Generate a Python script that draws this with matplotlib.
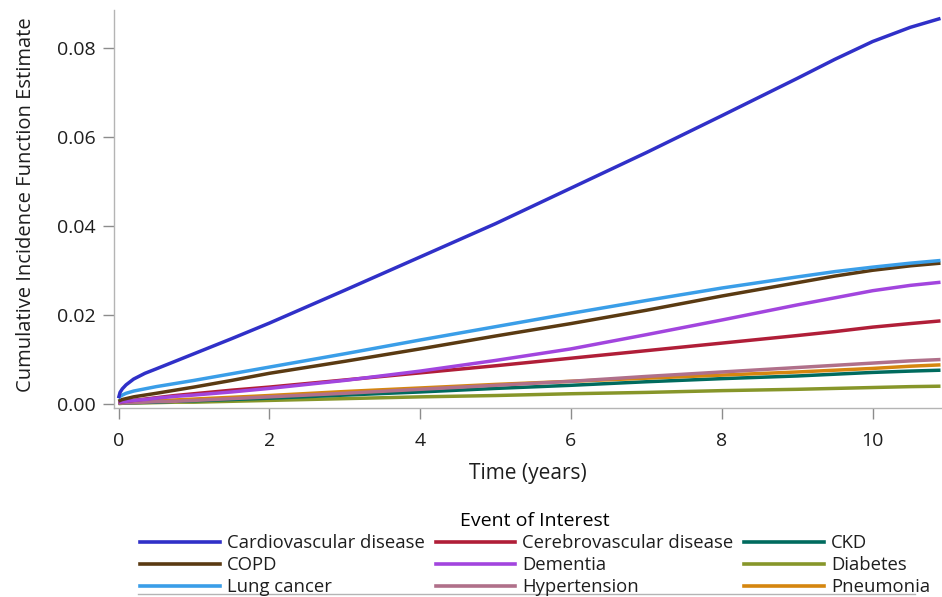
import matplotlib
matplotlib.use("Agg")
import matplotlib.pyplot as plt
from matplotlib.lines import Line2D

plt.rcParams['font.family'] = ['Open Sans', 'DejaVu Sans']

# follow-up time (years) at which the CIF estimates are read
tiempo = [0, 0.02, 0.05, 0.1, 0.2, 0.35, 0.5, 0.75, 1, 1.5, 2, 3, 4, 5, 6, 7, 8, 9, 9.5, 10, 10.5, 10.9]

cif_cardiovascular = [0.0012, 0.0025, 0.0033, 0.0042, 0.0055, 0.0068, 0.0078, 0.0095, 0.0112, 0.0146, 0.0181,
                      0.0255, 0.0330, 0.0405, 0.0485, 0.0565, 0.0648, 0.0732, 0.0775, 0.0815, 0.0847, 0.0867]
cif_copd = [0.0005, 0.0007, 0.0009, 0.0011, 0.0015, 0.0019, 0.0023, 0.0030, 0.0037, 0.0052, 0.0068,
            0.0095, 0.0123, 0.0152, 0.0180, 0.0210, 0.0242, 0.0272, 0.0287, 0.0300, 0.0310, 0.0316]
cif_lung = [0.0012, 0.0016, 0.0019, 0.0023, 0.0028, 0.0033, 0.0038, 0.0045, 0.0052, 0.0067, 0.0082,
            0.0112, 0.0143, 0.0173, 0.0203, 0.0232, 0.0260, 0.0285, 0.0297, 0.0307, 0.0316, 0.0322]
cif_cerebro = [0.0002, 0.0003, 0.0004, 0.0005, 0.0007, 0.0010, 0.0013, 0.0018, 0.0022, 0.0030, 0.0037,
               0.0053, 0.0069, 0.0085, 0.0102, 0.0119, 0.0136, 0.0153, 0.0162, 0.0172, 0.0180, 0.0186]
cif_dementia = [0.0002, 0.0003, 0.0004, 0.0005, 0.0007, 0.0009, 0.0012, 0.0016, 0.0019, 0.0026, 0.0034,
                0.0052, 0.0073, 0.0097, 0.0123, 0.0155, 0.0188, 0.0222, 0.0238, 0.0254, 0.0266, 0.0273]
cif_hypertension = [0.0001, 0.0001, 0.0001, 0.00015, 0.0002, 0.0003, 0.0004, 0.0005, 0.0007, 0.0011, 0.0015,
                    0.0023, 0.0032, 0.0041, 0.0050, 0.0061, 0.0071, 0.0081, 0.0086, 0.0091, 0.0096, 0.0099]
cif_ckd = [0.0001, 0.0001, 0.0001, 0.00015, 0.0002, 0.00025, 0.0003, 0.0005, 0.0006, 0.0009, 0.0012,
           0.0019, 0.0026, 0.0034, 0.0041, 0.0049, 0.0056, 0.0062, 0.0066, 0.0070, 0.0073, 0.0075]
cif_diabetes = [0.0000, 0.0000, 0.00005, 0.0001, 0.0001, 0.00015, 0.0002, 0.0003, 0.0003, 0.0005, 0.0007,
                0.0011, 0.0015, 0.0018, 0.0022, 0.0025, 0.0029, 0.0032, 0.0034, 0.0036, 0.0038, 0.0039]
cif_pneumonia = [0.0002, 0.0002, 0.0002, 0.0003, 0.0004, 0.0005, 0.0006, 0.0008, 0.0010, 0.0014, 0.0018,
                 0.0027, 0.0035, 0.0043, 0.0050, 0.0057, 0.0064, 0.0071, 0.0075, 0.0079, 0.0084, 0.0087]

# legend order: column by column (3 columns)
eventos = [
    ("Cardiovascular disease", cif_cardiovascular, "#3030c8"),
    ("COPD", cif_copd, "#5a3a12"),
    ("Lung cancer", cif_lung, "#3a9ee8"),
    ("Cerebrovascular disease", cif_cerebro, "#b01e38"),
    ("Dementia", cif_dementia, "#a245de"),
    ("Hypertension", cif_hypertension, "#b0708a"),
    ("CKD", cif_ckd, "#006b5e"),
    ("Diabetes", cif_diabetes, "#87962a"),
    ("Pneumonia", cif_pneumonia, "#d5860f"),
]

# drawing order (small curves first so the big ones stay on top)
ordem_desenho = ["Diabetes", "CKD", "Pneumonia", "Hypertension", "Cerebrovascular disease",
                 "Dementia", "COPD", "Lung cancer", "Cardiovascular disease"]

fig = plt.figure(figsize=(9.42, 5.97), dpi=100)
ax = fig.add_axes([114 / 942, 1 - 408 / 597, 1 - 114 / 942, (408 - 10) / 597])

linhas = {}
for nome, valores, cor in eventos:
    linhas[nome] = Line2D([0], [0], color=cor, linewidth=2.6)
for z, nome in enumerate(ordem_desenho):
    _, valores, cor = next(e for e in eventos if e[0] == nome)
    ax.plot(tiempo, valores, color=cor, linewidth=2.5, zorder=2 + z, solid_capstyle='butt')

ax.set_xlim(-0.06, 10.92)
ax.set_ylim(-0.00101, 0.0886)
ax.set_xticks([0, 2, 4, 6, 8, 10])
ax.set_yticks([0.00, 0.02, 0.04, 0.06, 0.08])
ax.set_yticklabels(["0.00", "0.02", "0.04", "0.06", "0.08"])

for lado in ["top", "right"]:
    ax.spines[lado].set_visible(False)
for lado in ["left", "bottom"]:
    ax.spines[lado].set_color("#b4b4b4")
    ax.spines[lado].set_linewidth(1.0)
ax.tick_params(axis="both", direction="out", length=8, width=1.0, color="#8c8c8c",
               labelsize=14, labelcolor="#1e1e1e", pad=5)
ax.tick_params(axis="x", pad=9)

ax.set_xlabel("Time (years)", fontsize=15, color="#1e1e1e", labelpad=10)
ax.set_ylabel("Cumulative Incidence Function Estimate", fontsize=14.5, color="#1e1e1e")
ax.yaxis.set_label_coords(-0.094, 0.51)

leg = fig.legend([linhas[e[0]] for e in eventos], [e[0] for e in eventos],
                 ncol=3, loc="upper center", bbox_to_anchor=(535 / 942, 1 - 503 / 597),
                 frameon=False, fontsize=13.3, title="Event of Interest", title_fontsize=14,
                 handlelength=4.3, handletextpad=0.38, columnspacing=0.6,
                 labelspacing=0.22, borderpad=0.0)
for t in leg.get_texts():
    t.set_color("#1e1e1e")

# thin rule under the legend block
fig.add_artist(Line2D([138 / 942, 915 / 942], [1 - 594 / 597] * 2, color="#b4b4b4", linewidth=1.0))

fig.savefig("out.png", dpi=100)
